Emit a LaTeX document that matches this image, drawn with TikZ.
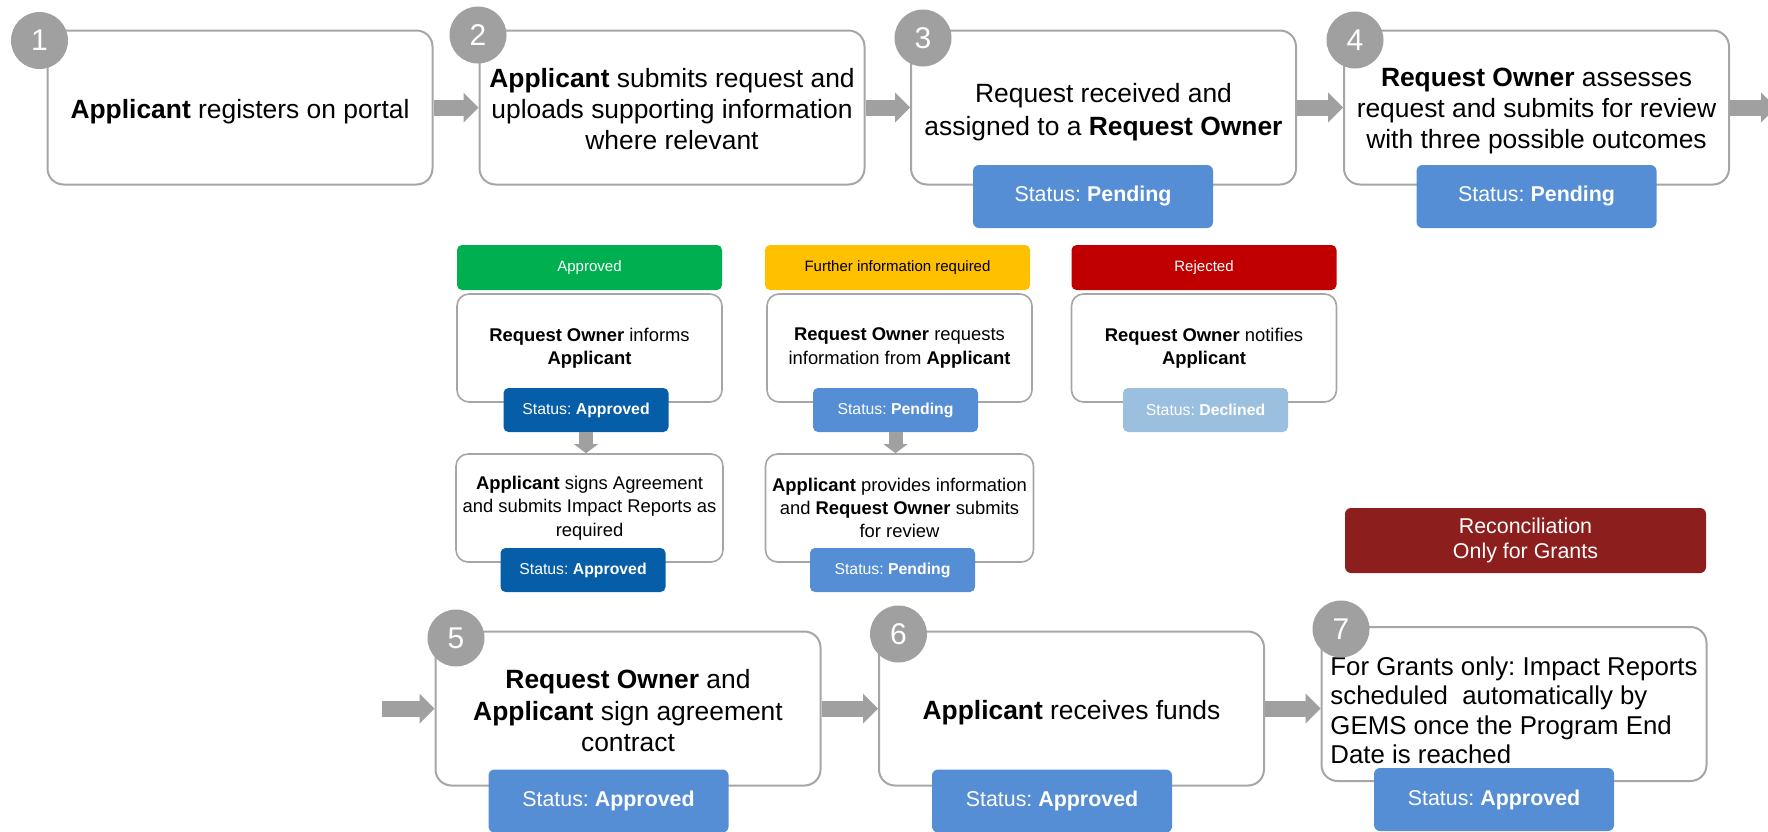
\documentclass[tikz,border=0pt]{standalone}
\usepackage{fontspec}
\setmainfont{Liberation Sans}
\usetikzlibrary{arrows.meta}
\frenchspacing

\definecolor{edgegray}{RGB}{166,166,166}
\definecolor{dotgray}{RGB}{160,160,160}
\definecolor{stblue}{RGB}{85,142,213}
\definecolor{stdark}{RGB}{6,94,168}
\definecolor{stpale}{RGB}{155,192,223}
\definecolor{okgreen}{RGB}{0,176,80}
\definecolor{infoyellow}{RGB}{255,192,0}
\definecolor{rejred}{RGB}{192,0,0}
\definecolor{recred}{RGB}{140,31,29}

\begin{document}
\begin{tikzpicture}[x=0.5pt,y=-0.5pt,
    stepbox/.style={draw=edgegray,line width=1pt,fill=white,rounded corners=8pt,
      minimum width=192.5pt,minimum height=77pt,align=center,
      font=\fontsize{13.2}{15.6}\selectfont,
      execute at begin node={\rule{0pt}{14pt}}},
    lift/.style={execute at begin node={\rule{0pt}{#1}}},
    numdot/.style={circle,fill=dotgray,text=white,minimum size=28.5pt,inner sep=0pt,
      font=\fontsize{15}{15}\selectfont},
    status/.style={fill=stblue,text=white,rounded corners=3pt,
      minimum width=120pt,minimum height=31.5pt,font=\fontsize{10.7}{12}\selectfont},
    headbox/.style={rounded corners=2.5pt,minimum width=132.5pt,minimum height=22.5pt,
      font=\fontsize{7.5}{9}\selectfont},
    notebox/.style={draw=edgegray,line width=0.8pt,fill=white,rounded corners=6pt,
      minimum width=132.5pt,minimum height=54pt,align=center,
      font=\fontsize{9.2}{11.7}\selectfont},
    tag/.style={text=white,rounded corners=2.5pt,minimum width=82.5pt,
      minimum height=22pt,font=\fontsize{7.9}{9.5}\selectfont},
    recbox/.style={fill=recred,text=white,rounded corners=3pt,minimum width=180.5pt,
      minimum height=32.5pt,align=center,font=\fontsize{10.7}{12.4}\selectfont},
    bigarrow/.style={draw=dotgray,line width=8pt,
      -{Triangle[length=7.5pt,width=15pt,line width=0pt]}},
    droparrow/.style={draw=dotgray,line width=7pt,
      -{Triangle[length=4.5pt,width=12pt,line width=0pt]}}]
  \useasboundingbox (0,0) rectangle (1768,831);

  % top row
  \node[stepbox] (b1) at (240,107.5)    {\textbf{Applicant} registers on portal};
  \node[stepbox,lift=42.5pt] (b2) at (672,107.5)
    {\textbf{Applicant} submits request and\\uploads supporting information\\where relevant};
  \node[stepbox,font=\fontsize{13.2}{16.2}\selectfont,lift=30.3pt] (b3) at (1103.5,107.5)
    {Request received and\\assigned to a \textbf{Request Owner}};
  \node[stepbox,lift=44pt] (b4) at (1536.5,107.5)
    {\textbf{Request Owner} assesses\\request and submits for review\\with three possible outcomes};
  \node[status]  (s3) at (1093,196.5)   {Status: \textbf{Pending}};
  \node[status]  (s4) at (1536.5,196.5) {Status: \textbf{Pending}};
  \node[numdot]  (n1) at (39.5,40.5)    {1};
  \node[numdot]  (n2) at (478,35)       {2};
  \node[numdot]  (n3) at (923,38)       {3};
  \node[numdot]  (n4) at (1355,40)      {4};
  \coordinate    (out4) at (1776,107.5);

  % three outcomes
  \node[headbox,fill=okgreen,text=white]   (h1) at (589.5,267.5) {Approved};
  \node[headbox,fill=infoyellow,text=black] (h2) at (897.5,267.5) {Further information required};
  \node[headbox,fill=rejred,text=white]    (h3) at (1204,267.5)  {Rejected};
  \node[notebox] (a1) at (589.5,348) {\textbf{Request Owner} informs\\\textbf{Applicant}};
  \node[notebox] (a2) at (589.5,508) {\textbf{Applicant} signs Agreement\\and submits Impact Reports as\\required};
  \node[notebox] (f1) at (899.5,348) {\textbf{Request Owner} requests\\information from \textbf{Applicant}};
  \node[notebox] (f2) at (899.5,508) {\textbf{Applicant} provides information\\and \textbf{Request Owner} submits\\for review};
  \node[notebox] (r1) at (1204,348)  {\textbf{Request Owner} notifies\\\textbf{Applicant}};
  \node[tag,fill=stdark] (a1s) at (586,410)    {Status: \textbf{Approved}};
  \node[tag,fill=stdark] (a2s) at (583,570)    {Status: \textbf{Approved}};
  \node[tag,fill=stblue] (f1s) at (895.5,410)  {Status: \textbf{Pending}};
  \node[tag,fill=stblue] (f2s) at (892.5,570)  {Status: \textbf{Pending}};
  \node[tag,fill=stpale] (r1s) at (1205.5,410) {Status: \textbf{Declined}};
  \node[recbox] (rec) at (1525.5,540.5) {Reconciliation\\Only for Grants};

  % bottom row
  \coordinate    (in5) at (382,708.5);
  \node[stepbox,lift=43pt] (b5) at (628,708.5)
    {\textbf{Request Owner} and\\\textbf{Applicant} sign agreement\\contract};
  \node[stepbox] (b6) at (1071.5,708.5) {\textbf{Applicant} receives funds};
  \node[stepbox,align=left,font=\fontsize{12.9}{14.8}\selectfont,lift=60pt] (b7) at (1514,704)
    {For Grants only: Impact Reports\\scheduled\ \ automatically by\\GEMS once the Program End\\Date is reached};
  \node[status]  (s5) at (608.5,801)    {Status: \textbf{Approved}};
  \node[status]  (s6) at (1052,801)     {Status: \textbf{Approved}};
  \node[status]  (s7) at (1494,799.5)   {Status: \textbf{Approved}};
  \node[numdot]  (n5) at (456,638)      {5};
  \node[numdot]  (n6) at (898.5,634)    {6};
  \node[numdot]  (n7) at (1341,629)     {7};

  \draw[bigarrow] (b1) -- (b2);
  \draw[bigarrow] (b2) -- (b3);
  \draw[bigarrow] (b3) -- (b4);
  \draw[bigarrow] (b4) -- (out4);
  \draw[droparrow] (a1s) -- (a1s |- a2.north);
  \draw[droparrow] (f1s) -- (f1s |- f2.north);
  \draw[bigarrow] (in5) -- (b5);
  \draw[bigarrow] (b5) -- (b6);
  \draw[bigarrow] (b6) -- (b6 -| b7.west);
\end{tikzpicture}
\end{document}
